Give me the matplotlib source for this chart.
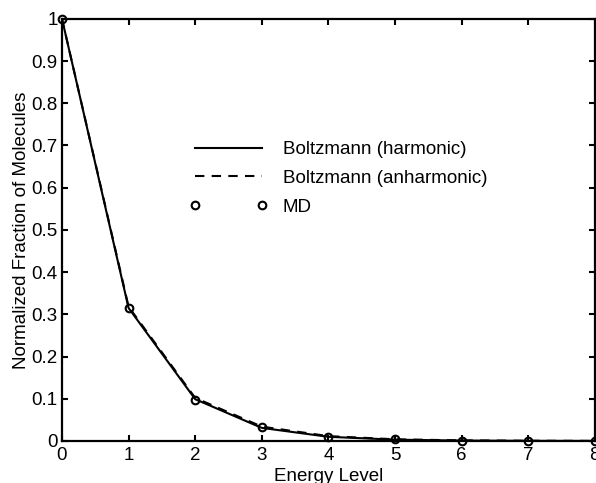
import matplotlib
matplotlib.use("Agg")
import matplotlib.pyplot as plt
import numpy as np

plt.rcParams["font.family"] = ["Liberation Sans", "DejaVu Sans"]

levels = np.arange(0, 9)
harmonic = [1.0, 0.315, 0.099, 0.031, 0.0099, 0.0031, 0.0010, 0.0003, 0.0001]
anharmonic = [1.0, 0.318, 0.102, 0.034, 0.0115, 0.0040, 0.0014, 0.0005, 0.0002]
md = [1.0, 0.315, 0.098, 0.032, 0.0100, 0.0038, 0.0011, 0.0004, 0.0001]

fs = 13.5
fig = plt.figure(figsize=(5.96, 4.83), dpi=100)
ax = fig.add_axes([0.104, 0.087, 0.894, 0.874])

ax.plot(levels, harmonic, "k-", lw=1.5, label="Boltzmann (harmonic)")
ax.plot(levels, anharmonic, "k--", lw=1.5, dashes=(4.5, 3.5), label="Boltzmann (anharmonic)")
ax.plot(levels, md, "ko", ms=5.5, mfc="none", mew=1.5, ls="none", label="MD", clip_on=False)

ax.set_xlim(0, 8)
ax.set_ylim(0, 1)
ax.set_xticks(range(9))
ax.set_yticks(np.arange(0, 1.01, 0.1))
ax.set_yticklabels(["0", "0.1", "0.2", "0.3", "0.4", "0.5", "0.6", "0.7", "0.8", "0.9", "1"])
ax.tick_params(direction="in", top=True, right=True, labelsize=fs, width=1.5, length=4.5, pad=3)
ax.tick_params(axis="x", pad=4.5)
for s in ax.spines.values():
    s.set_linewidth(1.6)

ax.set_xlabel("Energy Level", fontsize=fs, labelpad=2.5)
ax.set_ylabel("Normalized Fraction of Molecules", fontsize=fs, labelpad=1)

ax.legend(loc="upper left", bbox_to_anchor=(189.5 / 596, 1 - 141 / 483),
          bbox_transform=fig.transFigure, frameon=False, fontsize=fs,
          borderpad=0, borderaxespad=0, handlelength=4.15, numpoints=2,
          handletextpad=0.82, labelspacing=0.62)

fig.savefig("out.png", dpi=100)
